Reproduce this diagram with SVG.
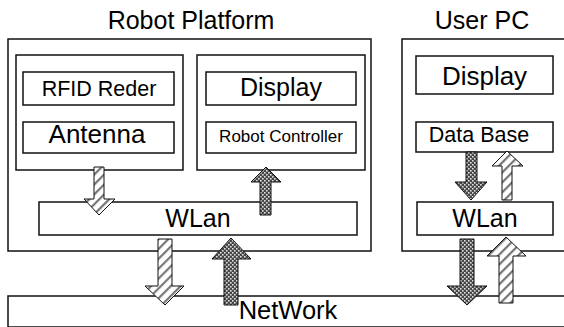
<svg xmlns="http://www.w3.org/2000/svg" width="564" height="327" viewBox="0 0 564 327">
<defs>
<pattern id="hatch" patternUnits="userSpaceOnUse" width="7" height="7" patternTransform="rotate(45)">
<rect width="7" height="7" fill="#fff"/>
<rect x="0" y="0" width="2.2" height="7" fill="#777"/>
</pattern>
<pattern id="cross" patternUnits="userSpaceOnUse" width="4" height="4">
<rect width="4" height="4" fill="#474747"/>
<rect x="0" y="0" width="1.6" height="1.6" fill="#e0e0e0"/>
<rect x="2" y="2" width="1.6" height="1.6" fill="#e0e0e0"/>
</pattern>
</defs>
<style>
.box{fill:#fff;stroke:#111;stroke-width:1.5}
.t{font-family:"Liberation Sans",Arial,sans-serif;fill:#000;text-anchor:middle}
.ah{stroke:#111;stroke-width:1;stroke-linejoin:miter}
.h{fill:url(#hatch)}
.c{fill:url(#cross)}
</style>
<rect width="564" height="327" fill="#fff"/>
<g id="robot-platform">
<rect class="box" x="8" y="39" width="363" height="212"/>
<text class="t" x="191" y="29" font-size="25">Robot Platform</text>
</g>
<g id="user-pc">
<rect class="box" x="402" y="39" width="170" height="212"/>
<text class="t" x="482" y="29" font-size="25">User PC</text>
</g>
<g id="robot-left">
<rect class="box" x="16" y="55" width="167" height="115"/>
</g>
<g id="robot-right">
<rect class="box" x="197" y="55" width="168" height="115"/>
</g>
<g id="rfid">
<rect class="box" x="23" y="72" width="151" height="33"/>
<text class="t" x="99" y="96" font-size="21.5">RFID Reder</text>
</g>
<g id="antenna">
<rect class="box" x="23" y="122" width="151" height="31"/>
<text class="t" x="97" y="143" font-size="26">Antenna</text>
</g>
<g id="display-robot">
<rect class="box" x="206" y="72" width="150" height="33"/>
<text class="t" x="281" y="96" font-size="25">Display</text>
</g>
<g id="robot-controller">
<rect class="box" x="206" y="122" width="150" height="31"/>
<text class="t" x="281" y="142" font-size="17">Robot Controller</text>
</g>
<g id="wlan-robot">
<rect class="box" x="39" y="202" width="318" height="33"/>
<text class="t" x="198" y="227" font-size="25">WLan</text>
</g>
<g id="display-pc">
<rect class="box" x="416" y="56" width="137" height="38"/>
<text class="t" x="484.5" y="85" font-size="26">Display</text>
</g>
<g id="database">
<rect class="box" x="416" y="122" width="137" height="30"/>
<text class="t" x="479" y="142" font-size="21.5">Data Base</text>
</g>
<g id="wlan-pc">
<rect class="box" x="417" y="202" width="136" height="33"/>
<text class="t" x="485" y="227" font-size="25">WLan</text>
</g>
<g id="network">
<rect class="box" x="8" y="296" width="570" height="31"/>
<text class="t" x="288" y="319" font-size="25.5">NetWork</text>
</g>
<g id="connectors">
<polygon class="ah h" points="94,167 104,167 104,199 115,199 99,215 84,199 94,199"/>
<polygon class="ah c" points="260,215 271,215 271,182 281,182 266,167 251,182 260,182"/>
<polygon class="ah h" points="158,239 172,239 172,286 184,286 165,305 145,286 158,286"/>
<polygon class="ah c" points="224,305 238,305 238,259 251,259 231,238 212,259 224,259"/>
<polygon class="ah c" points="466,152 477,152 477,182 487,182 471,200 455,182 466,182"/>
<polygon class="ah h" points="502,200 512,200 512,166 523,166 507,151 492,166 502,166"/>
<polygon class="ah c" points="460,239 474,239 474,286 487,286 467,305 447,286 460,286"/>
<polygon class="ah h" points="499,303 513,303 513,256 526,256 506,237 487,256 499,256"/>
</g>
</svg>
